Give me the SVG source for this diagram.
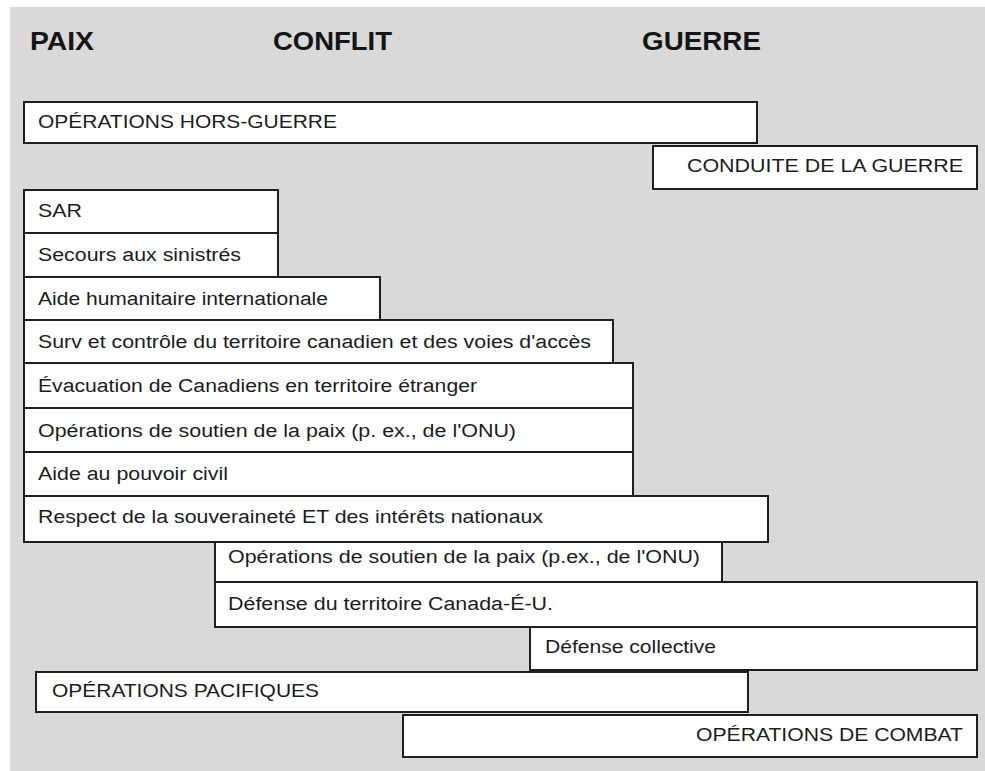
<svg xmlns="http://www.w3.org/2000/svg" width="985" height="771" viewBox="0 0 985 771">
  <style>
    .box { fill: #ffffff; stroke: #1e1e1e; stroke-width: 2; }
    .lbl { font-family: "Liberation Sans", Arial, sans-serif; font-size: 18px; fill: #1c1c1c; }
    .hdr { font-family: "Liberation Sans", Arial, sans-serif; font-size: 26px; font-weight: bold; fill: #151515; }
  </style>

  <!-- page background -->
  <rect x="0" y="0" width="985" height="771" fill="#ffffff"/>
  <rect x="10" y="7" width="975" height="764" fill="#d9d9d9"/>

  <!-- column headings -->
  <g id="headings">
    <text class="hdr" x="30" y="50" textLength="64" lengthAdjust="spacingAndGlyphs">PAIX</text>
    <text class="hdr" x="273" y="50" textLength="119" lengthAdjust="spacingAndGlyphs">CONFLIT</text>
    <text class="hdr" x="642" y="50" textLength="119" lengthAdjust="spacingAndGlyphs">GUERRE</text>
  </g>

  <g id="ops-hors-guerre">
    <rect class="box" x="24" y="102" width="733" height="41"/>
    <text class="lbl" x="38" y="128" textLength="299" lengthAdjust="spacingAndGlyphs">OPÉRATIONS HORS-GUERRE</text>
  </g>
  <g id="conduite-guerre">
    <rect class="box" x="653" y="146" width="324" height="43"/>
    <text class="lbl" x="687" y="172" textLength="276" lengthAdjust="spacingAndGlyphs">CONDUITE DE LA GUERRE</text>
  </g>

  <g id="sar">
    <rect class="box" x="24" y="190" width="254" height="43"/>
    <text class="lbl" x="38" y="217" textLength="44" lengthAdjust="spacingAndGlyphs">SAR</text>
  </g>
  <g id="secours">
    <rect class="box" x="24" y="233" width="254" height="44"/>
    <text class="lbl" x="38" y="261" textLength="203" lengthAdjust="spacingAndGlyphs">Secours aux sinistrés</text>
  </g>
  <g id="aide-humanitaire">
    <rect class="box" x="24" y="277" width="356" height="43"/>
    <text class="lbl" x="38" y="305" textLength="290" lengthAdjust="spacingAndGlyphs">Aide humanitaire internationale</text>
  </g>
  <g id="surveillance">
    <rect class="box" x="24" y="320" width="589" height="43"/>
    <text class="lbl" x="38" y="348" textLength="553" lengthAdjust="spacingAndGlyphs">Surv et contrôle du territoire canadien et des voies d'accès</text>
  </g>
  <g id="evacuation">
    <rect class="box" x="24" y="363" width="609" height="45"/>
    <text class="lbl" x="38" y="392" textLength="439" lengthAdjust="spacingAndGlyphs">Évacuation de Canadiens en territoire étranger</text>
  </g>
  <g id="soutien-paix-1">
    <rect class="box" x="24" y="408" width="609" height="44"/>
    <text class="lbl" x="38" y="437" textLength="478" lengthAdjust="spacingAndGlyphs">Opérations de soutien de la paix (p. ex., de l'ONU)</text>
  </g>
  <g id="pouvoir-civil">
    <rect class="box" x="24" y="452" width="609" height="44"/>
    <text class="lbl" x="38" y="480" textLength="190" lengthAdjust="spacingAndGlyphs">Aide au pouvoir civil</text>
  </g>
  <g id="souverainete">
    <rect class="box" x="24" y="496" width="744" height="46"/>
    <text class="lbl" x="38" y="523" textLength="505" lengthAdjust="spacingAndGlyphs">Respect de la souveraineté ET des intérêts nationaux</text>
  </g>

  <g id="soutien-paix-2">
    <rect class="box" x="215" y="542" width="507" height="40"/>
    <text class="lbl" x="228" y="563" textLength="472" lengthAdjust="spacingAndGlyphs">Opérations de soutien de la paix (p.ex., de l'ONU)</text>
  </g>
  <g id="defense-territoire">
    <rect class="box" x="215" y="582" width="762" height="45"/>
    <text class="lbl" x="228" y="610" textLength="325" lengthAdjust="spacingAndGlyphs">Défense du territoire Canada-É-U.</text>
  </g>
  <g id="defense-collective">
    <rect class="box" x="530" y="627" width="447" height="43"/>
    <text class="lbl" x="545" y="653" textLength="171" lengthAdjust="spacingAndGlyphs">Défense collective</text>
  </g>

  <g id="ops-pacifiques">
    <rect class="box" x="36" y="672" width="712" height="40"/>
    <text class="lbl" x="52" y="697" textLength="267" lengthAdjust="spacingAndGlyphs">OPÉRATIONS PACIFIQUES</text>
  </g>
  <g id="ops-combat">
    <rect class="box" x="403" y="715" width="574" height="42"/>
    <text class="lbl" x="696" y="741" textLength="267" lengthAdjust="spacingAndGlyphs">OPÉRATIONS DE COMBAT</text>
  </g>

  <!-- no connectors in this chart: bands only -->
  <g id="connectors"/>
</svg>
